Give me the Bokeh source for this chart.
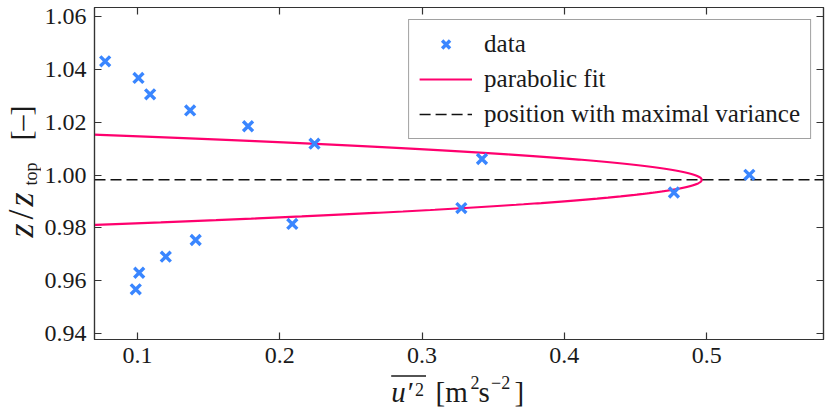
import numpy as np
from bokeh.plotting import figure
from bokeh.layouts import row, column
from bokeh.models import (LinearAxis, FixedTicker, Legend, LegendItem, Range1d)
from bokeh.core.properties import value
from bokeh.embed import file_html
from bokeh.resources import INLINE

# ---- data ----
u_var = [0.0773, 0.1007, 0.1089, 0.1370, 0.1777, 0.2244, 0.3421, 0.5300,
         0.4770, 0.3276, 0.2088, 0.1409, 0.1199, 0.1012, 0.0988]
z_rel = [1.0431, 1.0368, 1.0306, 1.0245, 1.0185, 1.0119, 1.0061, 1.0001,
         0.9934, 0.9875, 0.9815, 0.9754, 0.9691, 0.9630, 0.9567]

# parabolic fit  u = peak - curv * (z - z0)^2
fit_peak = 0.4965
fit_z0 = 0.9982
fit_curv = 1460.0
z_max_var = 0.9982

x_lim = [0.0698, 0.5821]
y_lim = [0.9377, 1.0635]
x_ticks = [0.1, 0.2, 0.3, 0.4, 0.5]
x_tick_labels = ["0.1", "0.2", "0.3", "0.4", "0.5"]
y_ticks = [0.94, 0.96, 0.98, 1.00, 1.02, 1.04, 1.06]
y_tick_labels = ["0.94", "0.96", "0.98", "1.00", "1.02", "1.04", "1.06"]

BLUE = "#3a86ff"
PINK = "#ff006e"
FONT = "Liberation Serif"
TXT = "#1a1a1a"

W, H = 830, 417
YLAB_W = 41
MAIN_H = 374
B_TOP, B_BOTTOM = 7, 35

# ---------------- main plot ----------------
p = figure(width=W - YLAB_W, height=MAIN_H, output_backend="svg",
           toolbar_location=None,
           x_range=Range1d(*x_lim), y_range=Range1d(*y_lim),
           min_border_left=51, min_border_right=7, min_border_top=B_TOP,
           min_border_bottom=B_BOTTOM, x_axis_location=None,
           y_axis_location=None)
p.grid.visible = False
p.outline_line_color = "#333333"
p.outline_line_width = 1.2
p.background_fill_color = "white"
p.border_fill_color = "white"


def style_axis(ax, ticks, labels, show_labels, standoff):
    ax.ticker = FixedTicker(ticks=ticks)
    ax.major_tick_in = 7
    ax.major_tick_out = 0
    ax.minor_tick_in = 0
    ax.minor_tick_out = 0
    ax.major_tick_line_color = "#333333"
    ax.major_tick_line_width = 1.2
    ax.axis_line_color = "#333333"
    ax.axis_line_width = 1.2
    if show_labels:
        ax.major_label_overrides = {t: l for t, l in zip(ticks, labels)}
        ax.major_label_text_font = FONT
        ax.major_label_text_font_size = "24px"
        ax.major_label_text_color = TXT
        ax.major_label_standoff = standoff
    else:
        ax.major_label_text_font_size = "1px"
        ax.major_label_text_color = None
        ax.major_label_standoff = 0


xb = LinearAxis()
style_axis(xb, x_ticks, x_tick_labels, True, 8)
p.add_layout(xb, "below")
yl = LinearAxis()
style_axis(yl, y_ticks, y_tick_labels, True, 8)
p.add_layout(yl, "left")
xt = LinearAxis()
style_axis(xt, x_ticks, x_tick_labels, False, 0)
p.add_layout(xt, "above")
yr = LinearAxis()
style_axis(yr, y_ticks, y_tick_labels, False, 0)
p.add_layout(yr, "right")

z_fit = np.linspace(0.975, 1.022, 500)
u_fit = fit_peak - fit_curv * (z_fit - fit_z0) ** 2

r_fit = p.line(u_fit, z_fit, line_color=PINK, line_width=2.2)
r_dash = p.line(x_lim, [z_max_var, z_max_var], line_color="#111111",
                line_width=1.5, line_dash="11 5")
r_data = p.scatter(u_var, z_rel, marker="x", size=14, line_width=3.4,
                   line_color=BLUE)

legend = Legend(items=[LegendItem(label="data", renderers=[r_data]),
                       LegendItem(label="parabolic fit", renderers=[r_fit]),
                       LegendItem(label="position with maximal variance",
                                  renderers=[r_dash])],
                location="top_right")
legend.margin = 12
legend.padding = 10
legend.spacing = 7
legend.glyph_width = 53
legend.glyph_height = 28
legend.label_height = 28
legend.label_standoff = 12
legend.label_text_font = FONT
legend.label_text_font_size = "25px"
legend.label_text_color = TXT
legend.border_line_color = "#444444"
legend.border_line_width = 1.5
legend.background_fill_color = "white"
legend.background_fill_alpha = 1.0
p.add_layout(legend, "center")


# ---------------- axis-label canvases ----------------
def label_canvas(w, h, y_range, top=0, bottom=0):
    f = figure(width=w, height=h, output_backend="svg", toolbar_location=None,
               x_range=Range1d(0, w), y_range=y_range,
               min_border_left=0, min_border_right=0, min_border_top=top,
               min_border_bottom=bottom, x_axis_location=None,
               y_axis_location=None)
    f.grid.visible = False
    f.outline_line_color = None
    f.background_fill_color = "white"
    f.border_fill_color = "white"
    return f


MID = 0.338  # distance (in em) from the text-box middle down to the baseline


def piece(f, x, y, s, size, italic=False, angle=0.0):
    f.text(x=[x], y=[y], text=[s], text_font=value(FONT),
           text_font_size=value("%gpx" % size),
           text_font_style=value("italic" if italic else "normal"),
           text_color=TXT, text_align=value("left"),
           text_baseline=value("middle"), angle=angle)


# y label: z / z_top [–]  (rotated, reads bottom to top)
fy = label_canvas(YLAB_W, MAIN_H,
                  Range1d(B_BOTTOM, MAIN_H - B_TOP), B_TOP, B_BOTTOM)
A = np.pi / 2


def vpiece(base_x, start_y, s, size, italic=False):
    piece(fy, base_x - MID * size, MAIN_H - start_y, s, size, italic, A)


vpiece(33, 237, "z", 36, italic=True)
vpiece(33, 219, "/", 36)
vpiece(33, 206, "z", 36, italic=True)
vpiece(36.5, 185, "top", 18)
vpiece(30.5, 140, "[–]", 30)

# x label: overline(u'^2) [m^2 s^-2]
XLAB_H = H - MAIN_H
fx = label_canvas(W, XLAB_H, Range1d(0, XLAB_H))


def hpiece(x, base_y, s, size, italic=False):
    piece(fx, x, H - (base_y - MID * size), s, size, italic)


u_left, u_right, bar_y = 390.7, 425.5, 375.5
hpiece(u_left, 401, "u", 29, italic=True)
hpiece(405.5, 401, "′", 29, italic=True)
hpiece(414.5, 395, "2", 18)
fx.segment(x0=[u_left], y0=[H - bar_y], x1=[u_right], y1=[H - bar_y],
           line_color=TXT, line_width=1.3)
hpiece(435.0, 401, "[m", 29)
hpiece(470.0, 388, "2", 18)
hpiece(478.0, 401, "s", 29)
hpiece(490.5, 388, "−2", 18)
hpiece(514.0, 401, "]", 29)

layout = column(row(fy, p, spacing=0), fx, spacing=0)
open("out.html", "w").write(file_html(layout, INLINE))
